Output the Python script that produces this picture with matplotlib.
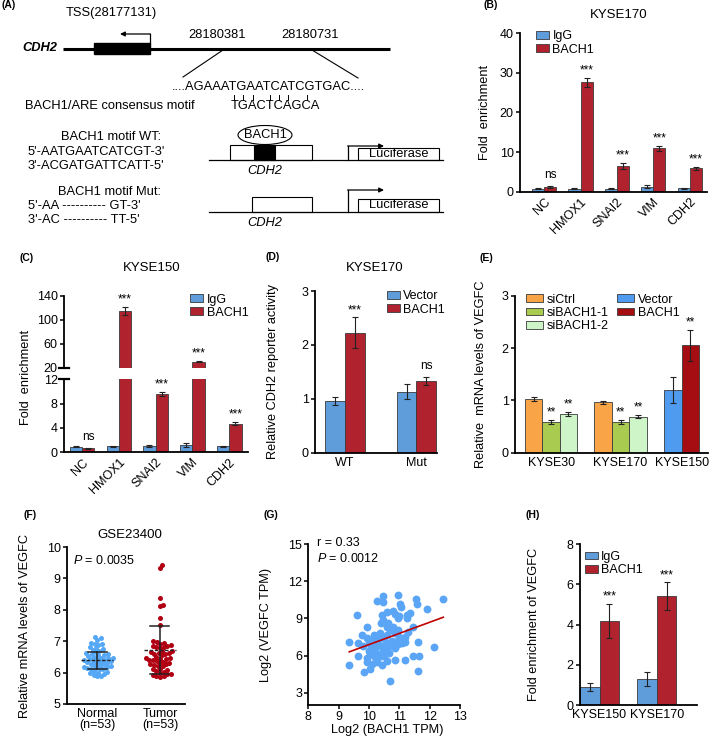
import numpy as np
import matplotlib.pyplot as plt
from matplotlib.patches import Rectangle, Ellipse, Patch
from matplotlib.font_manager import FontProperties

plt.rcParams['font.family'] = ['Liberation Sans', 'DejaVu Sans']
plt.rcParams['font.size'] = 8
plt.rcParams['mathtext.fontset'] = 'custom'
plt.rcParams['mathtext.it'] = 'Liberation Sans:italic'
plt.rcParams['mathtext.rm'] = 'Liberation Sans'

W, H = 709, 740

# ---------------- data ----------------
# (B) ChIP KYSE170
b_genes = ['NC', 'HMOX1', 'SNAI2', 'VIM', 'CDH2']
b_igg = [0.8, 0.8, 0.8, 1.3, 0.9]
b_igg_err = [0.15, 0.1, 0.1, 0.45, 0.1]
b_bach1 = [1.3, 27.6, 6.6, 11.0, 5.9]
b_bach1_err = [0.25, 1.1, 0.75, 0.6, 0.35]
b_marks = ['ns', '***', '***', '***', '***']

# (C) ChIP KYSE150
c_igg = [0.95, 1.0, 1.0, 1.2, 1.0]
c_igg_err = [0.1, 0.05, 0.15, 0.4, 0.05]
c_bach1 = [0.65, 114.5, 9.6, 30.0, 4.7]
c_bach1_err = [0.1, 7.0, 0.35, 1.2, 0.25]
c_marks = ['ns', '***', '***', '***', '***']

# (D) reporter assay KYSE170
d_groups = ['WT', 'Mut']
d_vector = [0.96, 1.13]
d_vector_err = [0.08, 0.14]
d_bach1 = [2.23, 1.33]
d_bach1_err = [0.28, 0.08]
d_marks = ['***', 'ns']

# (E) VEGFC mRNA
e_lines = ['KYSE30', 'KYSE170', 'KYSE150']
e_sictrl = [1.03, 0.96]
e_sictrl_err = [0.04, 0.03]
e_si1 = [0.59, 0.59]
e_si1_err = [0.04, 0.04]
e_si2 = [0.74, 0.69]
e_si2_err = [0.04, 0.03]
e_vector = [1.2]
e_vector_err = [0.25]
e_bach1 = [2.05]
e_bach1_err = [0.3]

# (F) GSE23400
f_normal = [7.14, 7.1, 7.05, 6.95, 6.92, 6.9, 6.88, 6.8, 6.78, 6.75, 6.72, 6.7,
            6.65, 6.62, 6.6, 6.58, 6.56, 6.55, 6.52, 6.5, 6.48, 6.46, 6.44, 6.42,
            6.4, 6.4, 6.38, 6.35, 6.33, 6.32, 6.3, 6.28, 6.26, 6.25, 6.2, 6.18,
            6.17, 6.15, 6.15, 6.13, 6.12, 6.1, 6.05, 6.03, 6.0, 5.98, 5.96, 5.93,
            5.9, 5.88, 6.45, 6.36, 6.22]
f_tumor = [9.43, 9.33, 8.38, 8.16, 8.11, 7.74, 7.53, 7.0, 6.98, 6.95, 6.92,
           6.88, 6.85, 6.84, 6.82, 6.8, 6.78, 6.7, 6.68, 6.66, 6.64, 6.62, 6.6,
           6.58, 6.5, 6.48, 6.46, 6.44, 6.42, 6.4, 6.4, 6.38, 6.32, 6.3, 6.28,
           6.26, 6.24, 6.22, 6.2, 6.12, 6.1, 6.08, 6.05, 6.02, 6.0, 5.96, 5.94,
           5.92, 5.9, 5.88, 5.85, 6.55, 6.35]
f_mean = [6.40, 6.72]
f_sd = [0.27, 0.76]

# (G) correlation
g_bach1 = [12.45, 11.55, 11.57, 10.95, 10.45, 10.47, 10.25, 11.02, 11.07, 11.92,
           9.6, 10.58, 10.86, 10.97, 11.24, 11.35, 11.26, 10.42, 11.44, 9.92,
           10.38, 10.64, 10.8, 10.97, 10.7, 9.76, 9.92, 9.35, 9.65, 10.25,
           10.15, 10.3, 10.5, 10.55, 10.9, 11.1, 11.2, 11.0, 11.2, 11.6,
           12.15, 10.05, 10.25, 10.4, 10.65, 10.86, 10.2, 10.45, 10.65, 10.15,
           10.4, 10.05, 9.65, 9.35, 11.44, 11.65, 10.86, 11.19, 10.58, 10.25,
           10.42, 9.92, 10.05, 9.85, 10.1, 11.6, 10.69, 10.0, 10.1, 10.3,
           10.55, 10.75, 10.35, 10.6, 10.85, 11.05, 10.0, 10.2, 10.3, 9.95,
           10.5, 10.7, 10.95, 11.3, 9.8, 10.15, 10.6, 10.45, 10.8, 11.0]
g_vegfc = [10.6, 10.55, 10.2, 10.9, 10.8, 10.3, 10.4, 10.2, 9.9, 9.75,
           9.3, 9.55, 9.4, 9.0, 9.3, 9.45, 9.05, 9.3, 8.35, 8.35,
           8.65, 8.6, 8.35, 8.07, 8.07, 7.67, 7.4, 7.13, 7.05, 7.6,
           7.4, 7.25, 7.4, 7.0, 7.1, 7.0, 7.1, 7.5, 7.5, 7.13,
           6.67, 6.9, 7.0, 6.75, 6.75, 6.6, 6.6, 6.35, 6.2, 6.2,
           5.95, 6.1, 5.97, 5.24, 5.97, 5.97, 5.65, 5.65, 5.57, 5.5,
           5.2, 5.5, 4.95, 4.65, 5.3, 4.76, 3.98, 6.4, 6.5, 6.9,
           6.5, 7.2, 7.8, 7.7, 7.8, 7.3, 7.2, 5.9, 6.1, 5.8,
           6.0, 6.9, 6.9, 7.9, 6.8, 7.65, 8.3, 8.9, 9.6, 9.2]
g_fit_x = [9.35, 12.45]
g_fit_y = [6.3, 9.1]

# (H) ChIP VEGFC
h_lines = ['KYSE150', 'KYSE170']
h_igg = [0.88, 1.29]
h_igg_err = [0.2, 0.34]
h_bach1 = [4.18, 5.42]
h_bach1_err = [0.85, 0.68]

# ---------------- styles ----------------
igg_c = '#5E9CDA'
bach_c = '#B0222E'
edge_c = '#3A3A3A'
TICK = 9
LAB = 9.2
TITLE = 9.5
ATXT = 9.3

fig = plt.figure(figsize=(W / 100, H / 100), dpi=100)


def px_axes(l, t, r, b):
    return fig.add_axes([l / W, 1 - b / H, (r - l) / W, (b - t) / H])


def ftext(x, y, s, **kw):
    kw.setdefault('va', 'center')
    return fig.text(x / W, 1 - y / H, s, **kw)


def style(ax):
    for s in ['top', 'right']:
        ax.spines[s].set_visible(False)
    for s in ['left', 'bottom']:
        ax.spines[s].set_linewidth(1.3)
    ax.tick_params(axis='y', length=3, width=1.1, labelsize=TICK, pad=1.5)
    ax.tick_params(axis='x', length=0, labelsize=TICK, pad=3)


def bars(ax, x, vals, errs, color, w):
    ax.bar(x, vals, w, color=color, edgecolor=edge_c, linewidth=0.6,
           yerr=errs, zorder=2,
           error_kw=dict(ecolor='#222222', elinewidth=0.8, capsize=2.3,
                         capthick=0.8))


def marks(ax, x, tops, labels):
    for xi, ti, m in zip(x, tops, labels):
        ax.annotate(m, (xi, ti), xytext=(0, 3.5 if m == 'ns' else 1),
                    textcoords='offset points', ha='center', va='bottom',
                    fontsize=8.5)


def legend(ax, colors, labels, anchor, ncol=1, hl=1.0, **kw):
    hs = [Patch(facecolor=c, edgecolor=edge_c, linewidth=0.6) for c in colors]
    ax.legend(hs, labels, loc='upper left', bbox_to_anchor=anchor,
              frameon=False, handlelength=hl, handleheight=0.6,
              handletextpad=0.3, labelspacing=0.1, borderaxespad=0,
              fontsize=TICK, ncol=ncol, **kw)


# ---------------- (A) schematic ----------------
ax0 = fig.add_axes([0, 0, 1, 1], zorder=-1)
ax0.set_xlim(0, W)
ax0.set_ylim(H, 0)
ax0.axis('off')
renderer = fig.canvas.get_renderer()
afont = FontProperties(family=['Liberation Sans'], size=ATXT)


def tw(s):
    return renderer.get_text_width_height_descent(s, afont, ismath=False)[0]


def t(x, y, s, **kw):
    kw.setdefault('va', 'center')
    kw.setdefault('fontsize', ATXT)
    ax0.text(x, y, s, **kw)


def arrow(x0, y0, x1, y1):
    ax0.annotate('', xy=(x1, y1), xytext=(x0, y0),
                 arrowprops=dict(arrowstyle='-|>', color='k', lw=0.9,
                                 mutation_scale=7, shrinkA=0, shrinkB=0))


t(66, 13, 'TSS(28177131)')
t(22, 48, 'CDH2', weight='bold', style='italic')
ax0.plot([63, 390], [48.5, 48.5], color='k', lw=2.2, solid_capstyle='butt')
ax0.add_patch(Rectangle((94, 43), 56, 11, color='k'))
ax0.plot([150, 150], [43, 34], 'k', lw=0.9)
arrow(150.4, 34, 120, 34)
t(217, 35, '28180381', ha='center')
t(310, 35, '28180731', ha='center')
ax0.plot([223, 183], [50, 77], 'k', lw=0.8)
ax0.plot([312, 358], [50, 78], 'k', lw=0.8)

seq = '....AGAAATGAATCATCGTGAC....'
cons = 'TGACTCAGCA'
seq_x = 172
t(seq_x, 87, seq)
cons_x = seq_x + tw('....AGAAA')
t(cons_x, 106, cons)
site = seq[9:19]
for i in range(len(cons)):
    if cons[i] == site[i]:
        xc = cons_x + tw(cons[:i]) + tw(cons[i]) / 2
        ax0.plot([xc, xc], [94.5, 99.5], 'k', lw=0.7)
t(25, 106, 'BACH1/ARE consensus motif')

t(111, 137, 'BACH1 motif WT:', ha='center')
t(28, 152, "5'-AATGAATCATCGT-3'")
t(28, 166, "3'-ACGATGATTCATT-5'")
ax0.plot([209, 443], [160, 160], 'k', lw=0.9)
ax0.add_patch(Rectangle((230, 145), 82, 15, fc='white', ec='k', lw=0.8))
ax0.add_patch(Rectangle((254, 145), 21, 15, fc='k', ec='k', lw=0.8))
ax0.add_patch(Ellipse((265, 135), 54, 19, fc='white', ec='k', lw=0.8))
t(265, 135, 'BACH1', ha='center')
ax0.plot([348, 348], [160, 146], 'k', lw=0.9)
arrow(347.6, 146, 384, 146)
ax0.add_patch(Rectangle((358, 148), 81, 12, fc='white', ec='k', lw=0.8))
t(398.5, 154, 'Luciferase', ha='center')
t(265, 171, 'CDH2', style='italic', ha='center')

t(110, 192, 'BACH1 motif Mut:', ha='center')
t(28, 206, "5'-AA ---------- GT-3'")
t(28, 220, "3'-AC ---------- TT-5'")
ax0.plot([209, 443], [212, 212], 'k', lw=0.9)
ax0.add_patch(Rectangle((252, 197), 60, 15, fc='white', ec='k', lw=0.8))
ax0.plot([348, 348], [212, 190], 'k', lw=0.9)
arrow(347.6, 190, 384, 190)
ax0.add_patch(Rectangle((358, 199), 81, 13, fc='white', ec='k', lw=0.8))
t(398.5, 205.5, 'Luciferase', ha='center')
t(265, 223, 'CDH2', style='italic', ha='center')

# panel letters
for lab, x, y in [('(A)', 1, 5), ('(B)', 483, 5), ('(C)', 20, 258),
                  ('(D)', 266, 257), ('(E)', 480, 258), ('(F)', 23, 515),
                  ('(G)', 263, 515), ('(H)', 526, 515)]:
    ftext(x, y, lab, fontsize=7.5, weight='bold')

# ---------------- (B) ----------------
axb = px_axes(520, 33.3, 707, 191.7)
style(axb)
xb = np.arange(len(b_genes))
w = 0.33
bars(axb, xb - w / 2, b_igg, b_igg_err, igg_c, w)
bars(axb, xb + w / 2, b_bach1, b_bach1_err, bach_c, w)
marks(axb, xb + w / 2, np.add(b_bach1, b_bach1_err), b_marks)
axb.set_ylim(0, 40)
axb.set_yticks([0, 10, 20, 30, 40])
axb.set_xlim(-0.66, 4.47)
axb.set_xticks(xb)
axb.set_xticklabels(b_genes, rotation=45, ha='right', rotation_mode='anchor')
axb.set_ylabel('Fold  enrichment', fontsize=LAB)
axb.yaxis.set_label_coords((491 - 520) / 187, 0.5)
legend(axb, [igg_c, bach_c], ['IgG', 'BACH1'], (0.06, 1.05))
ftext(619, 15, 'KYSE170', ha='center', fontsize=TITLE)

# ---------------- (C) broken axis ----------------
axct = px_axes(64, 295.7, 248, 367.7)
axcb = px_axes(64, 379.3, 248, 452.3)
xc = np.arange(len(b_genes))
w = 0.335
for ax in (axct, axcb):
    style(ax)
    bars(ax, xc - w / 2, c_igg, c_igg_err, igg_c, w)
    bars(ax, xc + w / 2, c_bach1, c_bach1_err, bach_c, w)
    ax.set_xlim(-0.49, 4.51)
axct.set_ylim(20, 140)
axct.set_yticks([20, 60, 100, 140])
axct.spines['bottom'].set_visible(False)
axct.set_xticks([])
axcb.set_ylim(0, 12)
axcb.set_yticks([0, 4, 8, 12])
axcb.set_xticks(xc)
axcb.set_xticklabels(b_genes, rotation=45, ha='right', rotation_mode='anchor')
for ax, yb in ((axct, 0), (axcb, 1)):
    ax.plot([-0.025, 0.025], [yb, yb], transform=ax.transAxes, color='k',
            lw=1.6, clip_on=False)
ctops = np.add(c_bach1, c_bach1_err)
for i in range(len(b_genes)):
    ax = axct if ctops[i] > 12 else axcb
    marks(ax, [xc[i] + w / 2], [ctops[i]], [c_marks[i]])
legend(axct, [igg_c, bach_c], ['IgG', 'BACH1'], (0.66, 1.1))
ftext(26, 377, 'Fold  enrichment', rotation=90, ha='center', fontsize=LAB)
ftext(152, 268, 'KYSE150', ha='center', fontsize=TITLE)

# ---------------- (D) ----------------
axd = px_axes(315, 291, 437, 452.7)
style(axd)
xd = np.arange(len(d_groups))
w = 0.275
bars(axd, xd - w / 2, d_vector, d_vector_err, igg_c, w)
bars(axd, xd + w / 2, d_bach1, d_bach1_err, bach_c, w)
marks(axd, xd + w / 2, np.add(d_bach1, d_bach1_err), d_marks)
axd.set_ylim(0, 3)
axd.set_yticks([0, 1, 2, 3])
axd.set_xlim(-0.42, 1.29)
axd.set_xticks(xd)
axd.set_xticklabels(d_groups)
axd.set_ylabel('Relative CDH2 reporter activity', fontsize=LAB)
axd.yaxis.set_label_coords((279 - 315) / 122, 0.5)
legend(axd, [igg_c, bach_c], ['Vector', 'BACH1'], (0.55, 1.035))
ftext(375, 268, 'KYSE170', ha='center', fontsize=TITLE)

# ---------------- (E) ----------------
axe = px_axes(515, 295.7, 708, 452.7)
style(axe)
xe = np.array([0.0, 1.0, 1.88])
w = 0.25
ec = ['#F8A447', '#A9CB4F', '#CDF5C8', '#4E9BF0', '#A50D12']
bars(axe, xe[:2] - w, e_sictrl, e_sictrl_err, ec[0], w)
bars(axe, xe[:2], e_si1, e_si1_err, ec[1], w)
bars(axe, xe[:2] + w, e_si2, e_si2_err, ec[2], w)
bars(axe, xe[2:] - w / 2, e_vector, e_vector_err, ec[3], w)
bars(axe, xe[2:] + w / 2, e_bach1, e_bach1_err, ec[4], w)
marks(axe, xe[:2], np.add(e_si1, e_si1_err), ['**', '**'])
marks(axe, xe[:2] + w, np.add(e_si2, e_si2_err), ['**', '**'])
marks(axe, xe[2:] + w / 2, np.add(e_bach1, e_bach1_err), ['**'])
axe.set_ylim(0, 3)
axe.set_yticks([0, 1, 2, 3])
axe.set_xlim(-0.52, 2.26)
axe.set_xticks(xe)
axe.set_xticklabels(e_lines)
axe.set_ylabel('Relative  mRNA levels of VEGFC', fontsize=LAB)
axe.yaxis.set_label_coords((487 - 515) / 193, 0.5)
legend(axe, ec, ['siCtrl', 'siBACH1-1', 'siBACH1-2', 'Vector', 'BACH1'],
       (0.03, 1.045), ncol=2, hl=1.4, columnspacing=0.6)


# ---------------- (F) ----------------
def swarm(vals, d, yscale):
    order = np.argsort(vals)
    placed = []
    xs = np.zeros(len(vals))
    for i in order:
        y = vals[i] * yscale
        cands = [0.0]
        for px, py in placed:
            dy = y - py
            if abs(dy) < d:
                dx = np.sqrt(d * d - dy * dy)
                cands += [px + dx, px - dx]
        cands.sort(key=abs)
        for c in cands:
            if all((c - px) ** 2 + (y - py) ** 2 >= d * d - 1e-6
                   for px, py in placed):
                xs[i] = c
                break
        placed.append((xs[i], y))
    return xs


axf = px_axes(67, 547, 185, 704)
style(axf)
yscale = 157 / 5.0
for k, (vals, col) in enumerate([(f_normal, '#55A8F6'), (f_tumor, '#B00012')]):
    offs = swarm(np.array(vals), 3.8, yscale) / 63.0
    axf.scatter(k + offs, vals, s=13, color=col, lw=0, zorder=2)
    m, sd = f_mean[k], f_sd[k]
    axf.plot([k - 0.25, k + 0.25], [m, m], color='#222222', lw=1.0,
             ls=(0, (2.5, 1.2)), zorder=3)
    axf.plot([k, k], [m - sd, m + sd], color='#222222', lw=1.1, zorder=3)
    for yy in (m - sd, m + sd):
        axf.plot([k - 0.15, k + 0.15], [yy, yy], color='#222222', lw=1.1,
                 zorder=3)
axf.set_ylim(5, 10)
axf.set_yticks([5, 6, 7, 8, 9, 10])
axf.set_xlim(-0.48, 1.4)
axf.set_xticks([0, 1])
axf.set_xticklabels(['Normal\n(n=53)', 'Tumor\n(n=53)'], linespacing=0.85)
axf.set_ylabel('Relative mRNA levels of VEGFC', fontsize=LAB)
axf.yaxis.set_label_coords((31 - 67) / 118, 0.5)
ftext(73, 561, r'$\it{P}$ = 0.0035', fontsize=TICK)
ftext(130, 535, 'GSE23400', ha='center', fontsize=TITLE)

# ---------------- (G) ----------------
axg = px_axes(308.3, 544.3, 460, 705)
style(axg)
axg.tick_params(axis='x', length=3, width=1.1, pad=1.5)
axg.scatter(g_bach1, g_vegfc, s=32, color='#5AA5F5', lw=0, zorder=2)
axg.plot(g_fit_x, g_fit_y, color='#C00000', lw=1.2, zorder=3)
axg.set_xlim(8, 13)
axg.set_ylim(2, 15)
axg.set_xticks([8, 9, 10, 11, 12, 13])
axg.set_yticks([3, 6, 9, 12, 15])
axg.set_xlabel('Log2 (BACH1 TPM)', fontsize=LAB)
axg.xaxis.set_label_coords(0.52, (705 - 724) / 160.7)
axg.set_ylabel('Log2 (VEGFC TPM)', fontsize=LAB)
axg.yaxis.set_label_coords((272 - 308.3) / 151.7, 0.5)
ftext(317, 543, 'r = 0.33', fontsize=TICK)
ftext(317, 558, r'$\it{P}$ = 0.0012', fontsize=TICK)

# ---------------- (H) ----------------
axh = px_axes(580, 544.3, 697, 705)
style(axh)
xh = np.arange(len(h_lines))
w = 0.34
bars(axh, xh - w / 2, h_igg, h_igg_err, igg_c, w)
bars(axh, xh + w / 2, h_bach1, h_bach1_err, bach_c, w)
marks(axh, xh + w / 2, np.add(h_bach1, h_bach1_err), ['***', '***'])
axh.set_ylim(0, 8)
axh.set_yticks([0, 2, 4, 6, 8])
axh.set_xlim(-0.34, 1.7)
axh.set_xticks(xh)
axh.set_xticklabels(h_lines)
axh.set_ylabel('Fold enrichment of VEGFC', fontsize=LAB)
axh.yaxis.set_label_coords((540 - 580) / 117, 0.5)
legend(axh, [igg_c, bach_c], ['IgG', 'BACH1'], (0.0, 0.99))

fig.savefig('out.png', dpi=100)
